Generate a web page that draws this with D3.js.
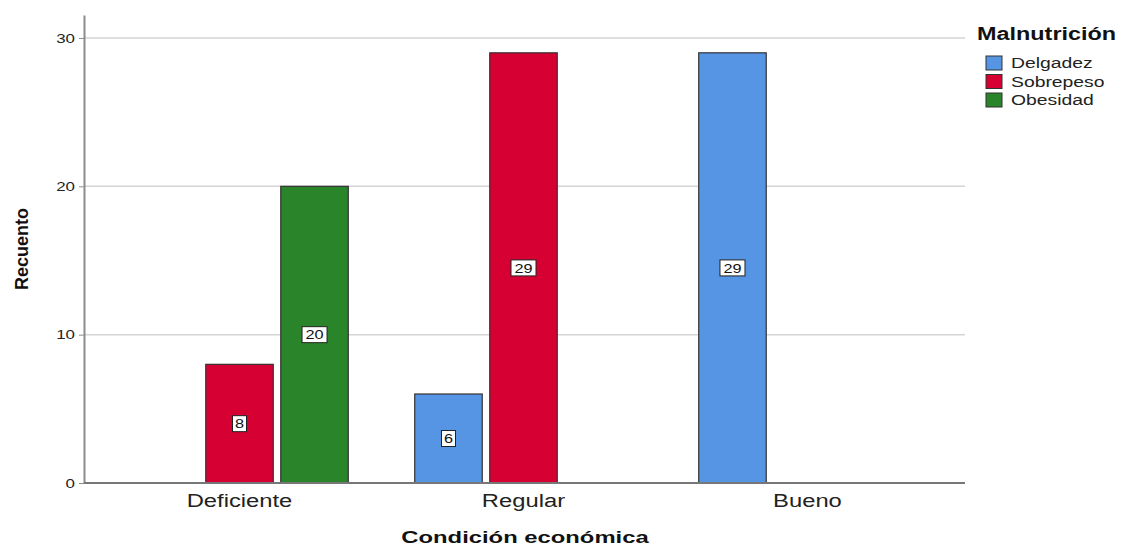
<!DOCTYPE html>
<html><head><meta charset="utf-8">
<script src="https://cdn.jsdelivr.net/npm/d3@7"></script>
<style>body{margin:0;background:#fff;}</style>
</head><body>
<svg id="c" width="1121" height="547"></svg>
<script>
const categories = ["Deficiente", "Regular", "Bueno"];
const series = ["Delgadez", "Sobrepeso", "Obesidad"];
const delgadez = [0, 6, 29];
const sobrepeso = [8, 29, 0];
const obesidad = [20, 0, 0];
const yTicks = [0, 10, 20, 30];
const colors = ["#5595e3", "#d60032", "#2a842a"];

const values = [delgadez, sobrepeso, obesidad];
const svg = d3.select("#c");
const L = 84, R = 965, T = 15, B = 483;
const font = "Liberation Sans, Arial, sans-serif";
function stretch(sel, k) {
  sel.each(function() {
    const w = this.getComputedTextLength();
    d3.select(this).attr("textLength", w * k).attr("lengthAdjust", "spacingAndGlyphs");
  });
}

const y = d3.scaleLinear().domain([0, 31.55]).range([B, T]);
const x0 = d3.scaleBand().domain(categories).range([L, 963]).paddingInner(0).paddingOuter(0.0476);
const x1 = d3.scaleBand().domain(series).range([0, x0.bandwidth()]).paddingInner(0.1).paddingOuter(0.443);

// gridlines
svg.append("g").selectAll("line").data(yTicks.filter(d => d > 0)).join("line")
  .attr("x1", L).attr("x2", R).attr("y1", d => y(d)).attr("y2", d => y(d))
  .attr("stroke", "#d4d4d4").attr("stroke-width", 1.5);

// y axis
const yAxis = svg.append("g").attr("transform", `translate(${L},0)`)
  .call(d3.axisLeft(y).tickValues(yTicks).tickSize(5).tickSizeOuter(0).tickFormat(d3.format("d")));
yAxis.select(".domain").attr("stroke", "#8c8c8c").attr("stroke-width", 2);
yAxis.selectAll(".tick line").attr("stroke", "#8c8c8c");
const yt = yAxis.selectAll(".tick text").attr("font-family", font).attr("font-size", 13).attr("fill", "#222").attr("x", -9);
stretch(yt, 1.3);

// bars
const data = [];
categories.forEach((c, i) => series.forEach((s, j) => { if (values[j][i] > 0) data.push({c, s, v: values[j][i], j}); }));
svg.append("g").selectAll("rect").data(data).join("rect")
  .attr("x", d => x0(d.c) + x1(d.s)).attr("width", x1.bandwidth())
  .attr("y", d => y(d.v)).attr("height", d => y(0) - y(d.v))
  .attr("fill", d => colors[d.j]).attr("stroke", "#333").attr("stroke-width", 1.2);

// value labels
const lab = svg.append("g").selectAll("g").data(data).join("g")
  .attr("transform", d => `translate(${x0(d.c) + x1(d.s) + x1.bandwidth()/2},${y(d.v/2)})`);
lab.append("rect").attr("x", d => d.v >= 10 ? -12.5 : -7).attr("width", d => d.v >= 10 ? 25 : 14)
  .attr("y", -8).attr("height", 16).attr("fill", "#fff").attr("stroke", "#222").attr("stroke-width", 1);
const vt = lab.append("text").attr("text-anchor", "middle").attr("dy", "0.36em")
  .attr("font-family", font).attr("font-size", 13).attr("fill", "#111").text(d => d.v);
stretch(vt, 1.25);

// x axis
svg.append("line").attr("x1", L).attr("x2", R).attr("y1", B).attr("y2", B)
  .attr("stroke", "#777").attr("stroke-width", 2);
const xt = svg.append("g").selectAll("text").data(categories).join("text")
  .attr("x", d => x0(d) + x0.bandwidth()/2).attr("y", 507).attr("text-anchor", "middle")
  .attr("font-family", font).attr("font-size", 18).attr("fill", "#222").text(d => d);
stretch(xt, 1.32);

// titles
const xtitle = svg.append("text").attr("x", 525).attr("y", 543).attr("text-anchor", "middle")
  .attr("font-family", font).attr("font-size", 17).attr("font-weight", "bold").attr("fill", "#111")
  .text("Condición económica");
stretch(xtitle, 1.4);
svg.append("text").attr("transform", "translate(28,249) rotate(-90)").attr("text-anchor", "middle")
  .attr("font-family", font).attr("font-size", 18).attr("font-weight", "bold").attr("fill", "#111")
  .text("Recuento");

// legend
const lt = svg.append("text").attr("x", 977).attr("y", 40).attr("font-family", font).attr("font-size", 18)
  .attr("font-weight", "bold").attr("fill", "#111").text("Malnutrición");
stretch(lt, 1.3);
const lg = svg.append("g").selectAll("g").data(series).join("g")
  .attr("transform", (d, i) => `translate(986,${63 + i * 18.5})`);
lg.append("rect").attr("width", 16).attr("height", 14).attr("y", -7)
  .attr("fill", (d, i) => colors[i]).attr("stroke", "#333").attr("stroke-width", 1);
const li = lg.append("text").attr("x", 25).attr("dy", "0.36em").attr("font-family", font).attr("font-size", 14)
  .attr("fill", "#222").text(d => d);
stretch(li, 1.38);
</script>
</body></html>
